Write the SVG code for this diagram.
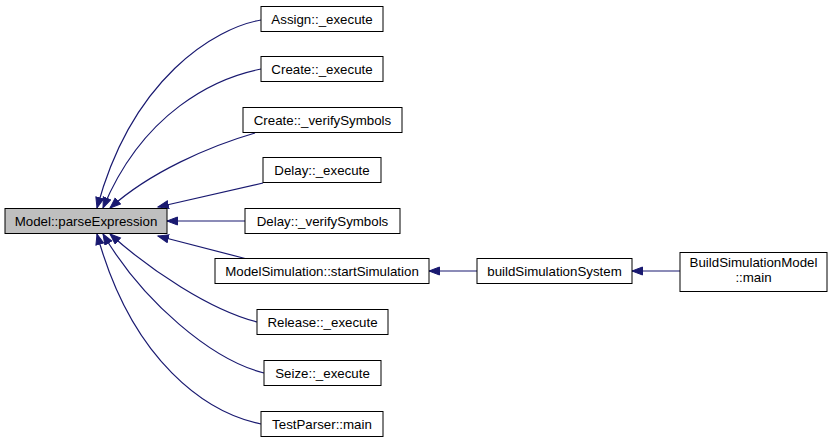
<svg xmlns="http://www.w3.org/2000/svg" width="832" height="443" viewBox="0 0 832 443">
<style>
.n rect{fill:#fff;stroke:#000;stroke-width:1}
.n.m rect{fill:#bfbfbf}
.n text{font-family:"Liberation Sans",Arial,sans-serif;font-size:13.3px;fill:#000;text-anchor:middle}
.e path{fill:none;stroke:#191970;stroke-width:1.2;marker-end:url(#ah)}
</style>
<defs>
<marker id="ah" markerUnits="userSpaceOnUse" markerWidth="13" markerHeight="10" refX="11" refY="4.5" orient="auto">
<path d="M0.5,0.5 L11,4.5 L0.5,8.5 z" fill="#191970" stroke="#191970"/>
</marker>
</defs>
<rect width="832" height="443" fill="#fff"/>
<g id="edges" class="e">
<path d="M261,20 C215,28 132,78 97,208"/>
<path d="M261,69 C215,78 143,112 103,208"/>
<path d="M255,133 C210,146 150,172 110,208"/>
<path d="M263,183 L158,207"/>
<path d="M245,221 L167,221"/>
<path d="M247,259 L158,236"/>
<path d="M257,322 C210,310 150,270 110,234"/>
<path d="M264,373 C212,360 143,302 103,234"/>
<path d="M261,424 C207,413 132,362 97,234"/>
<path d="M477,271 L429,271"/>
<path d="M680,271 L632,271"/>
</g>
<g id="node-main" class="n m"><rect x="5" y="208.5" width="162" height="25"/><text x="86" y="225.5">Model::parseExpression</text></g>
<g id="node-assign" class="n"><rect x="261" y="6.5" width="122" height="25"/><text x="322" y="23.5">Assign::_execute</text></g>
<g id="node-create" class="n"><rect x="261" y="56.5" width="122" height="25"/><text x="322" y="73.5">Create::_execute</text></g>
<g id="node-createverify" class="n"><rect x="243" y="107.5" width="159" height="25"/><text x="322.5" y="124.5">Create::_verifySymbols</text></g>
<g id="node-delay" class="n"><rect x="263" y="157.5" width="118" height="25"/><text x="322" y="174.5">Delay::_execute</text></g>
<g id="node-delayverify" class="n"><rect x="245" y="208.5" width="155" height="25"/><text x="322.5" y="225.5">Delay::_verifySymbols</text></g>
<g id="node-modelsim" class="n"><rect x="215" y="258.5" width="214" height="25"/><text x="322" y="275.5">ModelSimulation::startSimulation</text></g>
<g id="node-release" class="n"><rect x="257" y="309.5" width="131" height="25"/><text x="322.5" y="326.5">Release::_execute</text></g>
<g id="node-seize" class="n"><rect x="264" y="360.5" width="117" height="25"/><text x="322.5" y="377.5">Seize::_execute</text></g>
<g id="node-testparser" class="n"><rect x="261" y="411.5" width="122" height="25"/><text x="322" y="428.5">TestParser::main</text></g>
<g id="node-buildsys" class="n"><rect x="477" y="258.5" width="155" height="25"/><text x="554.5" y="275.5">buildSimulationSystem</text></g>
<g id="node-buildmain" class="n"><rect x="680" y="252.5" width="147" height="39"/><text x="753.5" y="267">BuildSimulationModel</text><text x="753.5" y="282">::main</text></g>
</svg>
